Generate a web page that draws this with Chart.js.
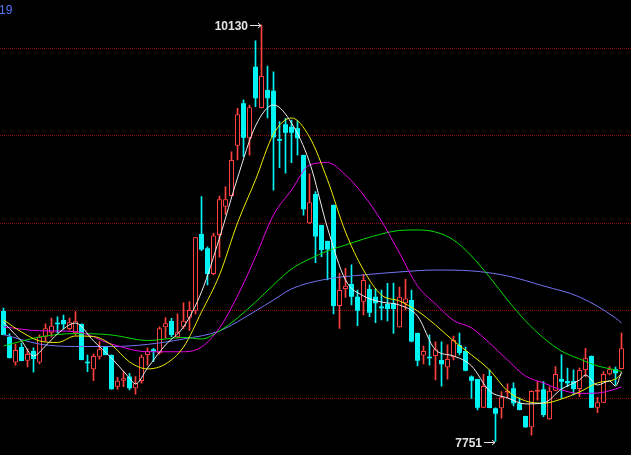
<!DOCTYPE html>
<html>
<head>
<meta charset="utf-8">
<script src="https://cdn.jsdelivr.net/npm/chart.js@4/dist/chart.umd.min.js"></script>
<style>
html,body{margin:0;padding:0;background:#000;overflow:hidden;}
canvas{display:block;}
</style>
</head>
<body>
<canvas id="c" width="631" height="455"></canvas>
<script>
// ---- data ----
const cornerLabel = "19";
const gridValues = [8000, 8500, 9000, 9500, 10000];
const slotCount = 105;

const openArr = [8497,8348,8202,8291,8213,8268,8202,8350,8373,8430,
  8446,8394,8370,8423,8207,8164,8236,8293,8246,8064,
  8099,8122,8055,8097,8246,8278,8255,8404,8440,8347,
  8407,8459,8499,8937,8855,8708,8931,9093,9154,9441,
  9684,9484,9893,9657,9760,9756,9480,9564,9550,9541,
  9388,8998,9165,8988,8897,9103,8525,8623,8651,8579,
  8550,8623,8579,8522,8537,8541,8404,8541,8560,8371,
  8242,8236,8240,8217,8175,8234,8303,8268,8122,8108,
  7944,8126,7941,7941,8031,8055,7970,7897,7832,8036,
  8050,7878,8041,8108,8097,8097,8051,8160,8240,7944,
  7973,8135,8164,8166];
const closeArr = [8360,8228,8274,8211,8251,8223,8350,8398,8413,8421,
  8421,8432,8438,8217,8198,8240,8278,8246,8050,8099,
  8112,8055,8084,8236,8270,8264,8398,8427,8360,8375,
  8441,8503,8918,8849,8708,8929,9135,9135,9360,9621,
  9487,9661,9712,9840,9712,9489,9470,9516,9516,9484,
  9078,9118,8922,8845,8849,8525,8617,8641,8579,8499,
  8674,8487,8541,8512,8508,8508,8579,8569,8322,8213,
  8268,8227,8278,8192,8223,8331,8257,8156,8099,7944,
  8068,7943,7910,8004,8040,7970,7931,7832,8040,8045,
  7903,8041,8137,8093,8084,8051,8160,8227,7944,7975,
  8137,8164,8141,8284];
const highArr = [8514,8366,8308,8314,8280,8286,8360,8423,8457,8464,
  8474,8457,8493,8423,8245,8251,8322,8293,8246,8118,
  8150,8141,8122,8246,8286,8284,8407,8459,8455,8480,
  8544,8550,8918,9150,8864,8941,9154,9207,9407,9655,
  9703,9674,10040,10130,9897,9864,9579,9598,9588,9584,
  9388,9280,9179,8988,8897,9103,8712,8741,8760,8617,
  8707,8646,8623,8617,8655,8657,8634,8678,8617,8371,
  8297,8360,8320,8320,8303,8354,8370,8291,8126,8108,
  8135,8160,7943,8036,8080,8087,8000,7897,8040,8093,
  8093,8064,8179,8246,8170,8160,8171,8284,8240,8004,
  8150,8179,8177,8370];
const lowArr = [8360,8228,8188,8211,8177,8148,8194,8326,8348,8371,
  8394,8388,8360,8217,8150,8099,8221,8246,8050,8050,
  8064,8046,8021,8084,8188,8207,8250,8341,8350,8341,
  8398,8384,8480,8842,8646,8703,8804,9049,9154,9360,
  9379,9388,9664,9657,9600,9188,9316,9284,9344,9388,
  9045,8998,8773,8807,8674,8480,8398,8575,8531,8413,
  8474,8464,8430,8446,8440,8369,8404,8503,8320,8183,
  8194,8188,8103,8068,8108,8217,8246,8154,7998,7931,
  7944,7943,7751,7884,8000,7954,7931,7832,7788,7988,
  7893,7878,8040,7998,8064,8017,8007,8122,7944,7916,
  7973,8131,8074,8166];

// moving-average lines, read at sampled candle positions
const ma5Idx = [0,2,3,5,7,9,12,15,18,21,22,24,27,30,33,36,39,42,45,48,51,54,57,60,63,66,69,72,75,78,81,84,87,90,93,96,97,99,101,102,103];
const ma5 = [8434,8360,8326,8240,8297,8366,8428,8326,8228,8114,8080,8171,8303,8406,8606,8914,9257,9554,9674,9571,9348,8971,8674,8583,8548,8531,8468,8274,8240,8183,8040,8000,7966,7971,8051,8103,8131,8074,8097,8068,8148];
const ma10Idx = [0,3,6,9,12,15,18,21,24,27,30,33,36,39,42,45,48,51,54,57,60,63,66,69,72,75,78,81,84,87,90,93,96,99,102,103];
const ma10 = [8446,8377,8326,8317,8354,8351,8303,8206,8166,8194,8291,8491,8703,9000,9246,9508,9600,9491,9246,8948,8731,8588,8554,8497,8417,8326,8246,8160,8040,7983,7970,7994,8034,8086,8108,8137];
const ma20Idx = [0,6,12,18,24,30,33,36,39,42,45,48,51,54,57,60,63,66,69,72,75,78,81,84,87,90,93,96,99,102,103];
const ma20 = [8406,8384,8379,8308,8264,8264,8291,8400,8583,8806,9046,9188,9331,9345,9274,9160,9011,8828,8640,8537,8443,8400,8314,8217,8125,8086,8046,8026,8028,8051,8063];
const ma30Idx = [0,6,12,18,24,30,33,36,39,42,45,48,51,54,57,60,63,66,69,72,75,78,81,84,87,90,93,96,99,102,103];
const ma30 = [8297,8348,8368,8360,8328,8346,8337,8383,8457,8548,8646,8737,8794,8840,8874,8908,8937,8957,8960,8948,8903,8811,8691,8560,8440,8343,8268,8223,8183,8160,8151];
const ma60Idx = [0,6,12,18,24,30,36,42,45,48,54,60,66,72,78,84,90,96,102,103];
const ma60 = [8363,8308,8294,8294,8306,8337,8383,8497,8560,8623,8680,8703,8720,8731,8726,8697,8640,8577,8457,8428];

// ---- styles ----
const UP = '#ff4040', DOWN = '#00f4f4';
const labels = Array.from({length: slotCount}, (_, i) => String(i));

function sparse(idx, vals) {
  const arr = new Array(slotCount).fill(null);
  idx.forEach((k, j) => { arr[k] = vals[j]; });
  return arr;
}
const isUp = openArr.map((o, i) => closeArr[i] >= o);
const bodies = openArr.map((o, i) => [Math.min(o, closeArr[i]), Math.max(o, closeArr[i])]);
const wicks = lowArr.map((l, i) => [l, highArr[i]]);

function maLine(data, color) {
  return {
    type: 'line', data, borderColor: color, borderWidth: 1, pointRadius: 0,
    spanGaps: true, cubicInterpolationMode: 'monotone', fill: false, order: -1
  };
}

const bgPlugin = {
  id: 'bg',
  beforeDraw(chart) {
    const c = chart.ctx;
    c.save(); c.fillStyle = '#000'; c.fillRect(0, 0, chart.width, chart.height); c.restore();
  },
  beforeDatasetsDraw(chart) {
    const c = chart.ctx, y = chart.scales.y;
    c.save();
    c.strokeStyle = '#8c0c0c'; c.lineWidth = 1; c.setLineDash([1, 1]);
    gridValues.forEach(v => {
      const py = Math.round(y.getPixelForValue(v)) + 0.5;
      c.beginPath(); c.moveTo(0, py); c.lineTo(chart.width, py); c.stroke();
    });
    c.restore();
  },
  afterDraw(chart) {
    const c = chart.ctx, x = chart.scales.x, y = chart.scales.y;
    c.save();
    c.fillStyle = '#5a78ff';
    c.font = '12px "Liberation Sans", Arial, sans-serif';
    c.textAlign = 'left'; c.textBaseline = 'alphabetic';
    c.fillText(cornerLabel, -1, 14);

    const hi = Math.max(...highArr), lo = Math.min(...lowArr);
    const marks = [
      {i: highArr.indexOf(hi), v: hi},
      {i: lowArr.indexOf(lo), v: lo}
    ];
    c.font = 'bold 12px "Liberation Sans", Arial, sans-serif';
    c.textAlign = 'right';
    c.fillStyle = '#e4e4e4'; c.strokeStyle = '#e4e4e4'; c.lineWidth = 1;
    marks.forEach(m => {
      const tip = Math.round(x.getPixelForValue(m.i)) - 1;
      const py = Math.round(y.getPixelForValue(m.v)) + 0.5;
      c.beginPath();
      c.moveTo(tip - 11, py); c.lineTo(tip, py);
      c.moveTo(tip - 3, py - 2.5); c.lineTo(tip, py); c.lineTo(tip - 3, py + 2.5);
      c.stroke();
      c.fillText(String(m.v), tip - 13, py + 4.5);
    });
    c.restore();
  }
};

new Chart(document.getElementById('c'), {
  type: 'bar',
  data: {
    labels,
    datasets: [
      {
        type: 'bar', data: bodies, grouped: false, order: 1,
        backgroundColor: isUp.map(u => u ? '#000' : DOWN),
        borderColor: isUp.map(u => u ? UP : DOWN),
        borderWidth: isUp.map(u => u ? 1 : 0),
        borderSkipped: false, categoryPercentage: 1, barPercentage: 5 / 6
      },
      {
        type: 'bar', data: wicks, grouped: false, order: 2,
        backgroundColor: isUp.map(u => u ? UP : DOWN),
        borderWidth: 0, barThickness: 1
      },
      maLine(sparse(ma5Idx, ma5), '#ececec'),
      maLine(sparse(ma10Idx, ma10), '#ecec00'),
      maLine(sparse(ma20Idx, ma20), '#e600e6'),
      maLine(sparse(ma30Idx, ma30), '#00dc00'),
      maLine(sparse(ma60Idx, ma60), '#7474f4')
    ]
  },
  options: {
    responsive: false, animation: false, maintainAspectRatio: false,
    layout: { padding: { left: 0.5, right: 0.5, top: 0, bottom: 0 } },
    plugins: { legend: { display: false }, tooltip: { enabled: false } },
    scales: {
      x: { type: 'category', display: false, offset: true },
      y: { type: 'linear', display: false, min: 7674, max: 10274 }
    }
  },
  plugins: [bgPlugin]
});
</script>
</body>
</html>
